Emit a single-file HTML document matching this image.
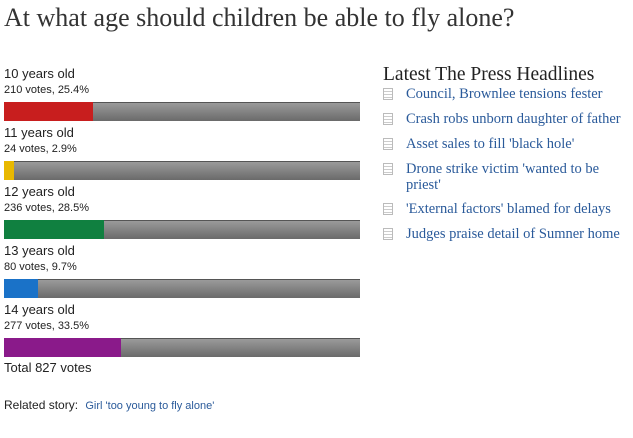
<!DOCTYPE html>
<html><head><meta charset="utf-8"><style>
body{margin:0;width:633px;height:438px;background:#fff;position:relative;overflow:hidden;font-family:"Liberation Sans",sans-serif;color:#222}
.abs{position:absolute;white-space:nowrap}
#title{left:4px;top:3px;font-family:"Liberation Serif",serif;font-size:26px;color:#333}
.lab{font-size:13px;color:#222}
.votes{font-size:11px;color:#222}
.track{position:absolute;left:4px;width:356px;height:19px;background:linear-gradient(#9a9a9a,#6a6a6a);border-top:1px solid #555;box-sizing:border-box}
.fill{position:absolute;left:0;top:-1px;height:19px}
#side{left:383px;top:64px;font-family:"Liberation Serif",serif;font-size:19.5px;color:#222}
.hl{position:absolute;left:383px;font-family:"Liberation Serif",serif;font-size:14.5px;color:#2a5a9a;line-height:16px}
.hl .ic{position:absolute;left:0;top:2px;width:10px;height:12px;border:1px solid #bbb;box-sizing:border-box;background:repeating-linear-gradient(#fff 0 2px,#ccc 2px 3px)}
.hl span{position:absolute;left:23px;top:0;white-space:nowrap}
</style></head><body>
<div class="abs" id="title">At what age should children be able to fly alone?</div>
<div id="poll"></div>
<div class="abs lab" style="left:4px;top:360px">Total 827 votes</div>
<div class="abs" style="left:4px;top:398px;font-size:12px">Related story: <span style="color:#2a5a9a;font-size:11px;margin-left:4px">Girl 'too young to fly alone'</span></div>
<div class="abs" id="side">Latest The Press Headlines</div>
<div class="hl" style="top:86px"><div class="ic"></div><span>Council, Brownlee tensions fester</span></div>
<div class="hl" style="top:111px"><div class="ic"></div><span>Crash robs unborn daughter of father</span></div>
<div class="hl" style="top:136px"><div class="ic"></div><span>Asset sales to fill 'black hole'</span></div>
<div class="hl" style="top:161px"><div class="ic"></div><span>Drone strike victim 'wanted to be<br>priest'</span></div>
<div class="hl" style="top:201px"><div class="ic"></div><span>'External factors' blamed for delays</span></div>
<div class="hl" style="top:226px"><div class="ic"></div><span>Judges praise detail of Sumner home</span></div>
<script>
const categories=["10 years old","11 years old","12 years old","13 years old","14 years old"];
const votes=[210,24,236,80,277];
const percents=[25.4,2.9,28.5,9.7,33.5];
const colors=["#c81e1e","#e8b800","#108040","#1a72c8","#8a1a8a"];
const poll=document.getElementById('poll');
const x=v=>v/100*350;
categories.forEach((c,i)=>{
  const y0=66+i*59;
  const l=document.createElement('div');l.className='abs lab';l.style.left='4px';l.style.top=y0+'px';l.textContent=c;
  
  
  poll.appendChild(l);
  const v=document.createElement('div');v.className='abs votes';v.style.left='4px';v.style.top=(y0+18)+'px';v.textContent=votes[i]+' votes, '+percents[i]+'%';
  
  
  poll.appendChild(v);
  const t=document.createElement('div');t.className='track';t.style.top=(y0+36)+'px';
  
  
  const f=document.createElement('div');f.className='fill';f.style.width=x(percents[i])+'px';f.style.background=colors[i];
  
  
  t.appendChild(f);poll.appendChild(t);
});
</script>
</body></html>
